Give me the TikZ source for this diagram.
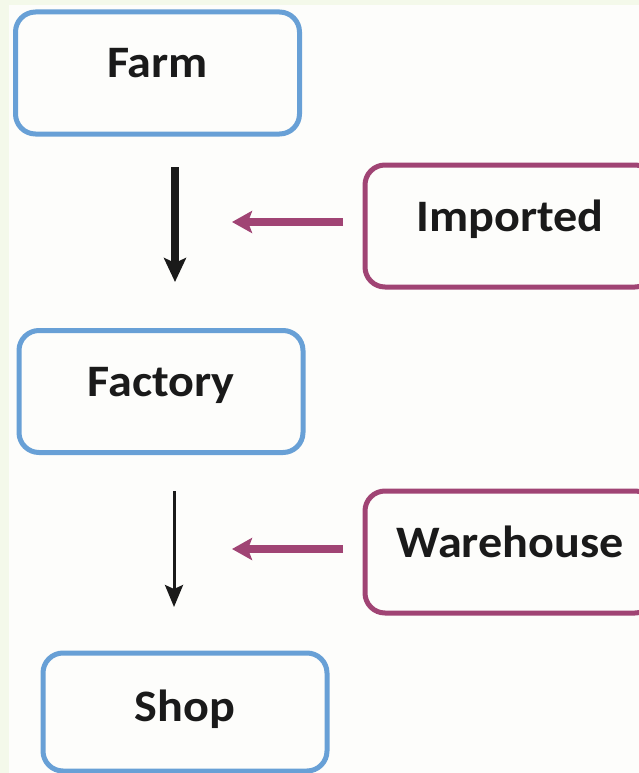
\documentclass[tikz,border=0pt]{standalone}
\usepackage{fontspec}
\setmainfont{Carlito}[FakeStretch=1.07]
\usetikzlibrary{arrows.meta}
\definecolor{boxblue}{RGB}{104,160,214}
\definecolor{boxpurple}{RGB}{160,68,116}
\definecolor{ink}{RGB}{26,26,26}
\definecolor{bgmain}{RGB}{253,253,251}
\definecolor{bgstrip}{RGB}{244,249,234}
\tikzset{
  basebox/.style={line width=5pt, rounded corners=20pt, inner sep=0pt,
    minimum height=122pt, text height=66pt, text depth=56pt,
    font=\fontsize{45}{50}\selectfont\bfseries, text=ink, fill=bgmain},
  stagebox/.style={basebox, draw=boxblue, minimum width=284pt},
  sourcebox/.style={basebox, draw=boxpurple, minimum width=290pt},
  flowarrow/.style={draw=ink, line width=8pt, -{Stealth[length=24pt,width=22pt,inset=5pt]}},
  thinflow/.style={draw=ink, line width=3pt, -{Stealth[length=22pt,width=18pt,inset=4pt]}},
  feedarrow/.style={draw=boxpurple, line width=8pt, -{Stealth[length=20pt,width=22pt,inset=4pt]}}
}
\begin{document}
\begin{tikzpicture}[x=1pt,y=-1pt]
\useasboundingbox (0,0) rectangle (639,773);
\fill[bgstrip] (0,0) rectangle (639,773);
\fill[bgmain] (9,5) rectangle (639,773);

\node[stagebox] (farm) at (157.5,73) {Farm};
\node[stagebox] (factory) at (161,391.5) {Factory};
\node[stagebox, minimum height=118pt, text height=68pt, text depth=50pt] (shop) at (185,712) {Shop};
\begin{scope}
\clip (0,0) rectangle (639,773);
\node[sourcebox] (imported) at (510,226) {Imported};
\node[sourcebox] (warehouse) at (510,552) {Warehouse};
\end{scope}

\coordinate (a1s) at (175,167);
\coordinate (a1e) at (175,282);
\coordinate (a2s) at (174,491);
\coordinate (a2e) at (174,607);
\coordinate (p1s) at (343,222);
\coordinate (p1e) at (232,222);
\coordinate (p2s) at (343,549);
\coordinate (p2e) at (232,549);

\draw[flowarrow] (a1s) -- (a1e);
\draw[thinflow] (a2s) -- (a2e);
\draw[feedarrow] (p1s) -- (p1e);
\draw[feedarrow] (p2s) -- (p2e);
\end{tikzpicture}
\end{document}
